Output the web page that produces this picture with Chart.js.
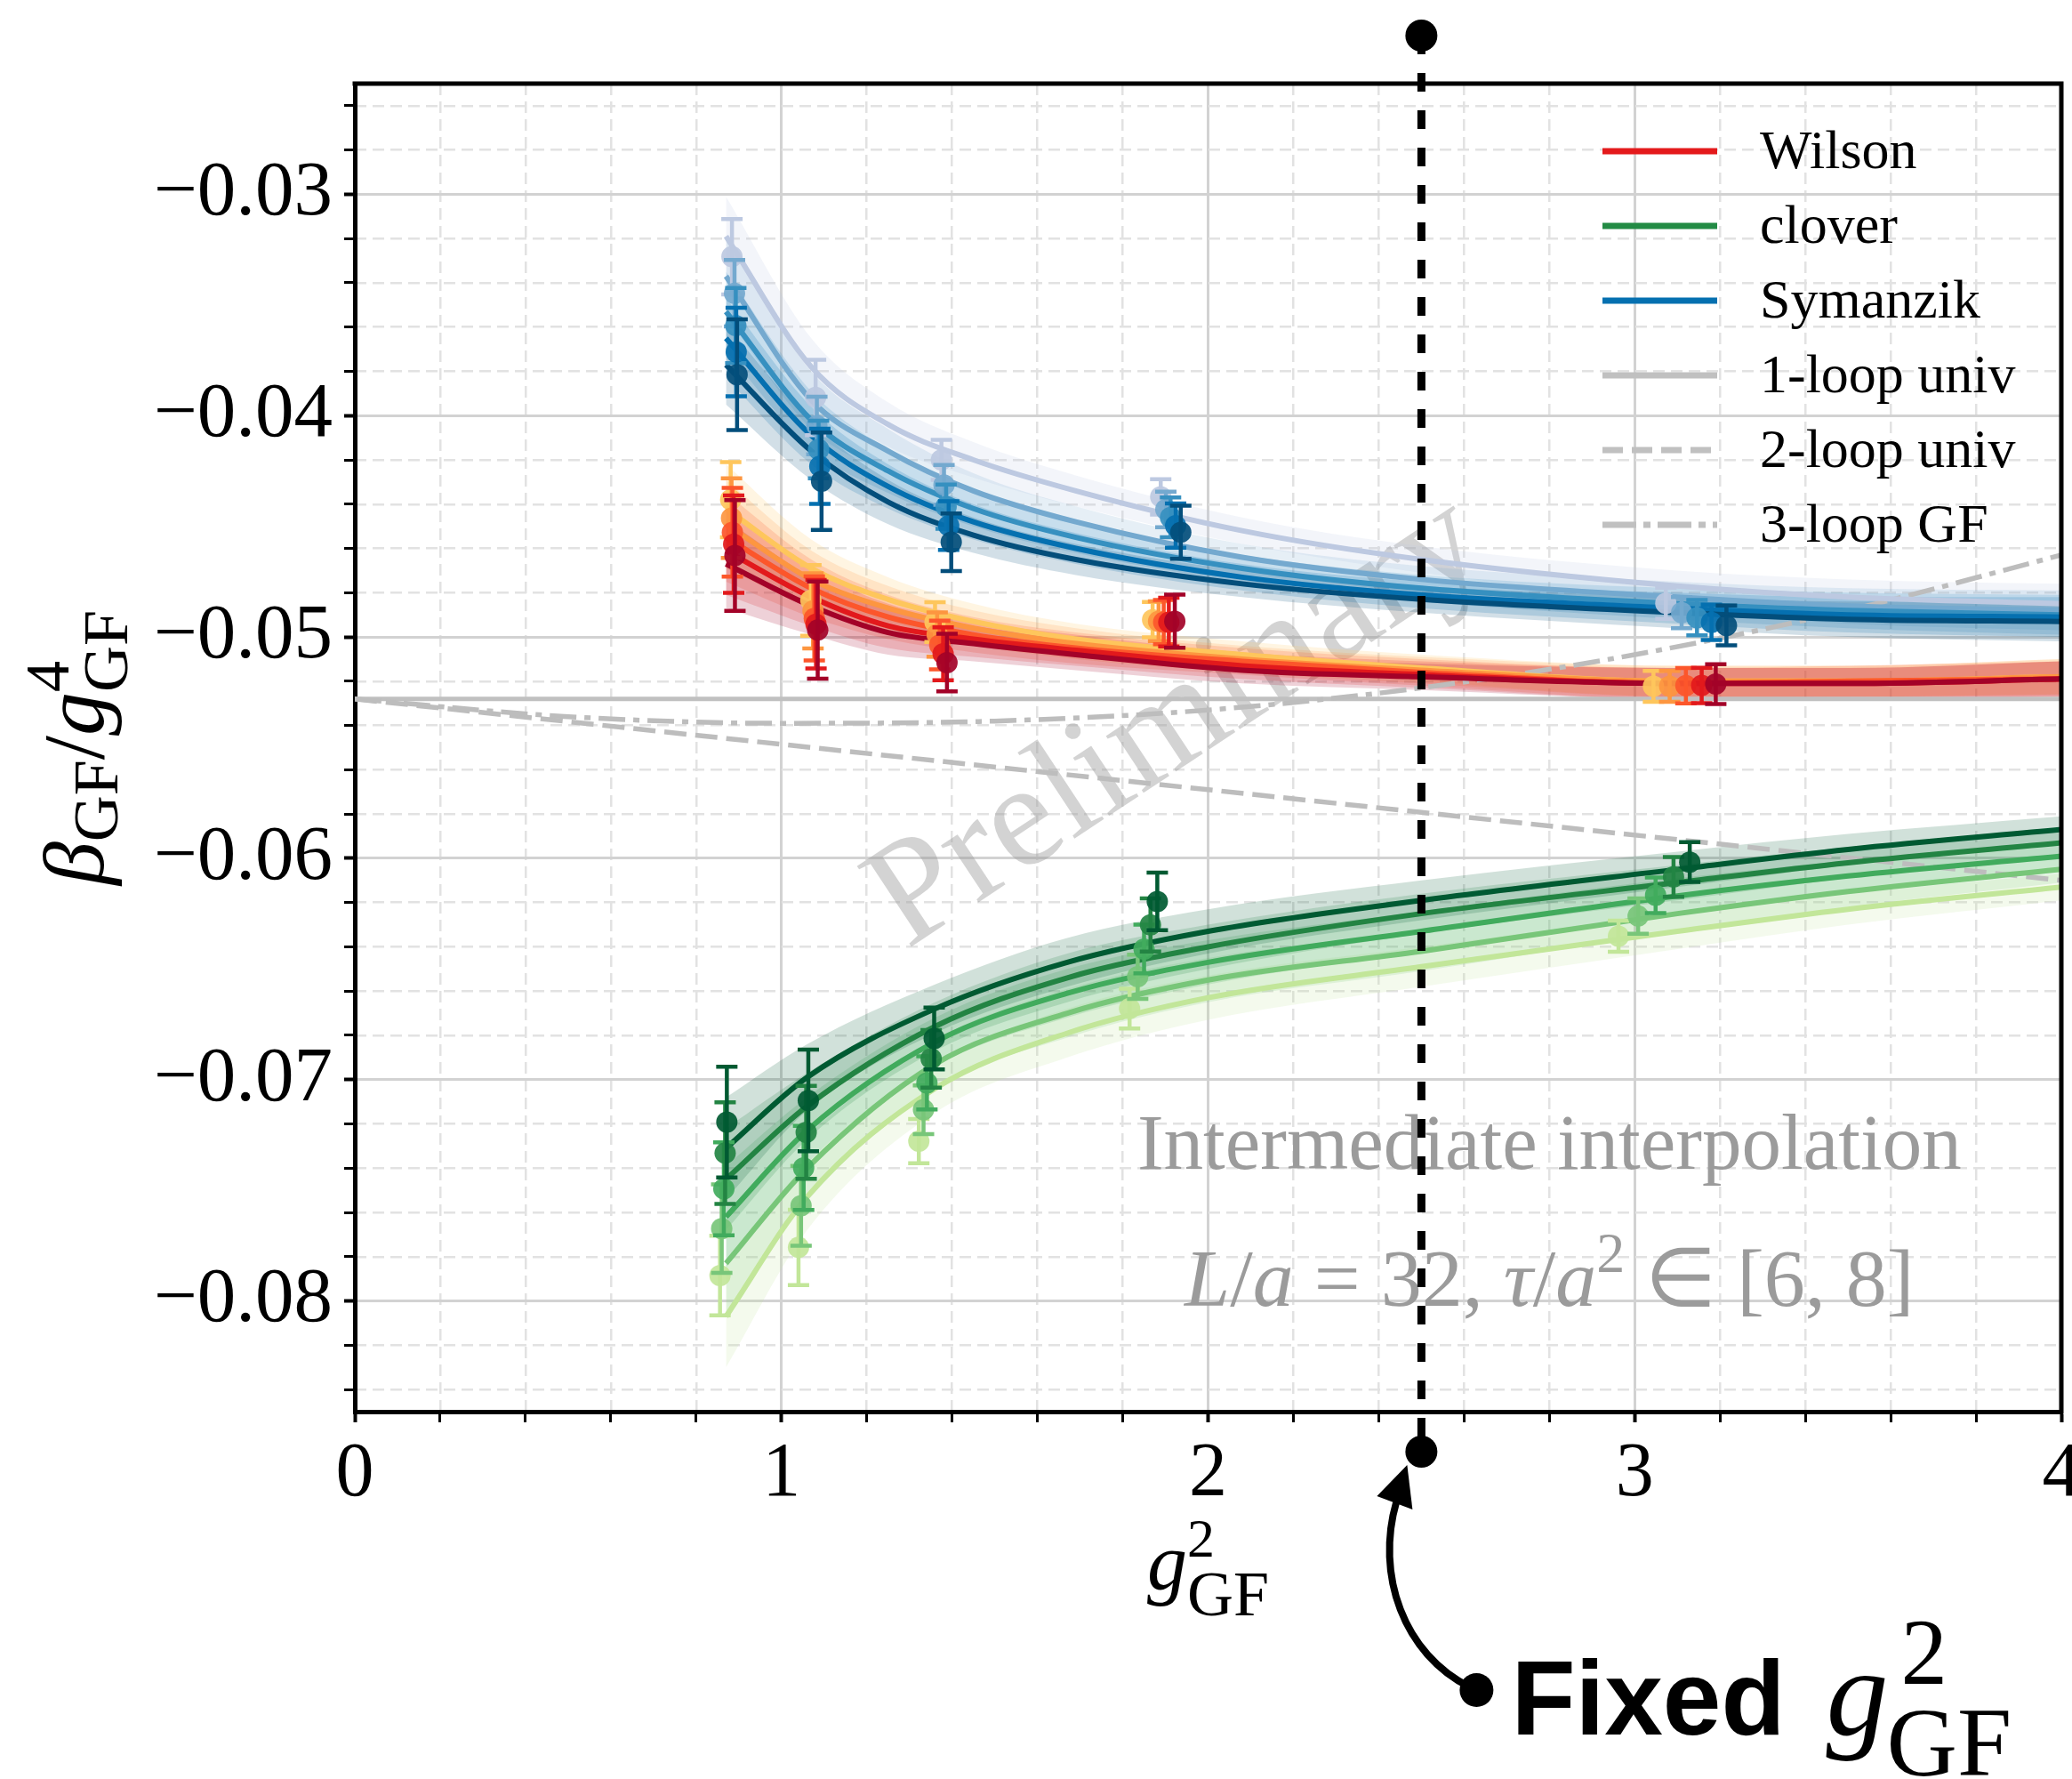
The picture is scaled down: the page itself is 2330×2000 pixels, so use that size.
<!DOCTYPE html>
<html>
<head>
<meta charset="utf-8">
<title>beta function, intermediate interpolation</title>
<script src="https://cdn.jsdelivr.net/npm/chart.js@4.4.1/dist/chart.umd.min.js"></script>
<style>
  html, body { margin: 0; padding: 0; background: #ffffff; }
  canvas { display: block; }
</style>
</head>
<body>
<canvas id="chart" width="2330" height="2000" style="width:2330px;height:2000px"></canvas>
<script>
var serif = "'Liberation Serif', 'Times New Roman', serif";
var sans = "'Liberation Sans', Arial, sans-serif";

// shades run light -> dark (one row per shade)
var wilsonColors = ['#fec65c', '#fd9640', '#fc562b', '#e2191c', '#a30228'];
var cloverColors = ['#c2e699', '#78c679', '#41ab5d', '#238443', '#005a32'];
var symanzikColors = ['#bdc9e1', '#74a9cf', '#3690c0', '#0570b0', '#034e7b'];

// measured points
var wilsonX = [
  [0.881, 1.069, 1.360, 1.870, 3.044],
  [0.883, 1.074, 1.365, 1.884, 3.082],
  [0.885, 1.077, 1.371, 1.896, 3.120],
  [0.888, 1.081, 1.379, 1.908, 3.157],
  [0.891, 1.085, 1.388, 1.922, 3.190]
];
var wilsonY = [
  [-0.0438, -0.04835, -0.04933, -0.04922, -0.05223],
  [-0.04463, -0.04882, -0.04989, -0.04929, -0.05223],
  [-0.04527, -0.04916, -0.05036, -0.04933, -0.0522],
  [-0.04581, -0.04942, -0.05076, -0.04933, -0.05219],
  [-0.04632, -0.04969, -0.05116, -0.04929, -0.05213]
];
var wilsonErr = [
  [0.0017, 0.0016, 0.0009, 0.0008, 0.0007],
  [0.0018, 0.0017, 0.0010, 0.0009, 0.0007],
  [0.0020, 0.0019, 0.0011, 0.0010, 0.0008],
  [0.0022, 0.0020, 0.0012, 0.0011, 0.0008],
  [0.0025, 0.0022, 0.0013, 0.0012, 0.0009]
];

var cloverX = [
  [0.856, 1.040, 1.322, 1.816, 2.962],
  [0.860, 1.046, 1.333, 1.835, 3.008],
  [0.865, 1.052, 1.341, 1.850, 3.049],
  [0.868, 1.058, 1.351, 1.865, 3.091],
  [0.872, 1.063, 1.358, 1.881, 3.129]
];
var cloverY = [
  [-0.07885, -0.07758, -0.07278, -0.06679, -0.06352],
  [-0.07673, -0.0757, -0.07136, -0.06535, -0.06261],
  [-0.07493, -0.07399, -0.07015, -0.0641, -0.06167],
  [-0.07332, -0.07238, -0.06906, -0.06301, -0.06084],
  [-0.07192, -0.07094, -0.06814, -0.06195, -0.06017]
];
var cloverErr = [
  [0.0018, 0.0017, 0.0010, 0.0009, 0.0007],
  [0.0020, 0.0018, 0.0011, 0.0010, 0.0008],
  [0.0021, 0.0019, 0.0012, 0.0011, 0.0008],
  [0.0023, 0.0021, 0.0013, 0.0012, 0.0009],
  [0.0025, 0.0023, 0.0014, 0.0013, 0.0009]
];

var symanzikX = [
  [0.884, 1.080, 1.375, 1.889, 3.073],
  [0.890, 1.083, 1.381, 1.901, 3.110],
  [0.893, 1.087, 1.386, 1.912, 3.146],
  [0.894, 1.090, 1.392, 1.924, 3.180],
  [0.896, 1.094, 1.398, 1.936, 3.215]
];
var symanzikY = [
  [-0.03282, -0.03918, -0.0420, -0.04367, -0.04848],
  [-0.03447, -0.04045, -0.04313, -0.04424, -0.0489],
  [-0.03593, -0.04153, -0.04411, -0.0446, -0.04913],
  [-0.03713, -0.04229, -0.04497, -0.04497, -0.04934],
  [-0.03815, -0.04296, -0.04572, -0.04527, -0.04948]
];
var symanzikErr = [
  [0.0017, 0.0017, 0.0009, 0.0008, 0.0007],
  [0.0015, 0.0013, 0.0009, 0.0008, 0.0007],
  [0.0017, 0.0013, 0.0010, 0.0009, 0.0008],
  [0.0020, 0.0017, 0.0011, 0.0010, 0.0008],
  [0.0025, 0.0022, 0.0013, 0.0012, 0.0009]
];

// interpolating curves, with band half widths
var fitGrid = [0.87, 1.07, 1.25, 1.45, 1.69, 2.08, 2.5, 3.1, 3.5, 4.0];
var cloverGrid = [0.87, 1.06, 1.36, 1.67, 2.0, 2.5, 3.1, 3.5, 4.0];

var wilsonFit = [
  [-0.0442, -0.0469, -0.0483, -0.0493, -0.0501, -0.0508, -0.0514, -0.0520, -0.0520, -0.0518],
  [-0.0449, -0.0474, -0.0487, -0.0496, -0.0503, -0.0510, -0.0515, -0.0520, -0.0520, -0.0518],
  [-0.0455, -0.0478, -0.0491, -0.0499, -0.0505, -0.0511, -0.0516, -0.0521, -0.0520, -0.0519],
  [-0.0461, -0.0482, -0.0495, -0.0501, -0.0506, -0.0513, -0.0517, -0.0521, -0.0521, -0.0519],
  [-0.0467, -0.0486, -0.0498, -0.0503, -0.0508, -0.0515, -0.0518, -0.0521, -0.0521, -0.0519]
];
var symanzikFit = [
  [-0.0319, -0.0378, -0.0404, -0.0420, -0.0434, -0.0452, -0.0465, -0.0477, -0.0482, -0.0485],
  [-0.0337, -0.0393, -0.0416, -0.0434, -0.0448, -0.0464, -0.0474, -0.0482, -0.0486, -0.0488],
  [-0.0353, -0.0402, -0.0425, -0.0442, -0.0455, -0.0469, -0.0478, -0.0485, -0.0488, -0.0490],
  [-0.0365, -0.0409, -0.0432, -0.0448, -0.0460, -0.0473, -0.0481, -0.0487, -0.0490, -0.0491],
  [-0.0377, -0.0416, -0.0439, -0.0454, -0.0465, -0.0476, -0.0483, -0.0489, -0.0492, -0.0493]
];
var cloverFit = [
  [-0.0807, -0.0753, -0.0704, -0.0679, -0.0663, -0.0649, -0.0633, -0.0623, -0.0613],
  [-0.0783, -0.0740, -0.0693, -0.0670, -0.0655, -0.0642, -0.0625, -0.0615, -0.0605],
  [-0.0762, -0.0723, -0.0683, -0.0661, -0.0647, -0.0633, -0.0617, -0.0608, -0.0599],
  [-0.0745, -0.0712, -0.0676, -0.0654, -0.0640, -0.0625, -0.0611, -0.0602, -0.0593],
  [-0.0731, -0.0699, -0.0668, -0.0647, -0.0633, -0.0619, -0.0605, -0.0596, -0.0587]
];
var wilsonBand = [0.0020, 0.0013, 0.0010, 0.0008, 0.0007, 0.0006, 0.0006, 0.0007, 0.0007, 0.0008];
var symanzikBand = [0.0018, 0.0013, 0.0010, 0.0008, 0.0007, 0.0006, 0.0006, 0.0007, 0.0008, 0.0009];
var cloverBand = [0.0023, 0.0015, 0.0011, 0.0011, 0.0010, 0.0009, 0.0008, 0.0007, 0.0006];

// perturbative curves
var oneLoopX = [0, 4];
var oneLoopY = [-0.0528, -0.0528];
var twoLoopX = [0, 4];
var twoLoopY = [-0.0528, -0.0610];
var threeLoopX = [0, 0.5, 1, 1.5, 2, 2.5, 3, 3.5, 4];
var threeLoopY = [-0.0528, -0.0536, -0.0539, -0.0538, -0.0533, -0.0523, -0.0508, -0.0488, -0.0463];

var legendLabels = ['Wilson', 'clover', 'Symanzik', '1-loop univ', '2-loop univ', '3-loop GF'];
var legendColors = ['#e41a1c', '#238b45', '#0570b0', '#c0c0c0', '#c0c0c0', '#c0c0c0'];
var legendDash = [[], [], [], [], [23, 10], [38, 8, 8, 8]];

var fixedG2 = 2.5;

function rgba(hex, a) {
  var n = parseInt(hex.slice(1), 16);
  return 'rgba(' + (n >> 16) + ',' + ((n >> 8) & 255) + ',' + (n & 255) + ',' + a + ')';
}
function pts(xs, ys) {
  return xs.map(function (x, i) { return { x: x, y: ys[i] }; });
}
function isWhole(v) { return Math.abs(v - Math.round(v)) < 1e-6; }
function milli(v) { return Math.round(v * 1000); }

var groups = [
  { colors: wilsonColors, xs: wilsonX, ys: wilsonY, errs: wilsonErr, grid: fitGrid, fit: wilsonFit, band: wilsonBand },
  { colors: cloverColors, xs: cloverX, ys: cloverY, errs: cloverErr, grid: cloverGrid, fit: cloverFit, band: cloverBand },
  { colors: symanzikColors, xs: symanzikX, ys: symanzikY, errs: symanzikErr, grid: fitGrid, fit: symanzikFit, band: symanzikBand }
];

var datasets = [];

// bands
groups.forEach(function (g) {
  g.fit.forEach(function (row, s) {
    datasets.push({
      data: pts(g.grid, row.map(function (v, i) { return v + g.band[i]; })),
      borderColor: 'rgba(0,0,0,0)', borderWidth: 1, pointRadius: 0,
      cubicInterpolationMode: 'monotone', fill: false
    });
    datasets.push({
      data: pts(g.grid, row.map(function (v, i) { return v - g.band[i]; })),
      borderColor: 'rgba(0,0,0,0)', borderWidth: 1, pointRadius: 0,
      cubicInterpolationMode: 'monotone', fill: '-1', backgroundColor: rgba(g.colors[s], 0.18)
    });
  });
});

// perturbation theory
datasets.push({ data: pts(oneLoopX, oneLoopY), borderColor: '#c0c0c0', borderWidth: 5, pointRadius: 0, fill: false });
datasets.push({ data: pts(twoLoopX, twoLoopY), borderColor: '#bdbdbd', borderWidth: 5.5, borderDash: [25, 10], pointRadius: 0, fill: false });
datasets.push({ data: pts(threeLoopX, threeLoopY), borderColor: '#bdbdbd', borderWidth: 5.5, borderDash: [30, 9, 7, 9],
  pointRadius: 0, cubicInterpolationMode: 'monotone', fill: false });

// fit curves
groups.forEach(function (g) {
  g.fit.forEach(function (row, s) {
    datasets.push({ data: pts(g.grid, row), borderColor: g.colors[s], borderWidth: 6, pointRadius: 0,
      cubicInterpolationMode: 'monotone', fill: false });
  });
});

// data points
groups.forEach(function (g) {
  g.ys.forEach(function (row, s) {
    datasets.push({
      data: pts(g.xs[s], row), errors: g.errs[s], barColor: g.colors[s],
      showLine: false, fill: false, pointRadius: 12, pointBorderWidth: 0,
      pointBackgroundColor: rgba(g.colors[s], 0.92), pointBorderColor: 'rgba(0,0,0,0)'
    });
  });
});

datasets.forEach(function (d, i) { d.order = -i; });

var errorBars = {
  id: 'errorBars',
  beforeDatasetDraw: function (chart, args) {
    var ds = chart.data.datasets[args.index];
    if (!ds.errors) return;
    var xs = chart.scales.x, ys = chart.scales.y, ctx = chart.ctx;
    ctx.save();
    ctx.strokeStyle = ds.barColor;
    ctx.lineWidth = 4.5;
    ds.data.forEach(function (p, i) {
      var px = xs.getPixelForValue(p.x);
      var top = ys.getPixelForValue(p.y + ds.errors[i]);
      var bot = ys.getPixelForValue(p.y - ds.errors[i]);
      ctx.beginPath();
      ctx.moveTo(px, top); ctx.lineTo(px, bot);
      ctx.moveTo(px - 12, top); ctx.lineTo(px + 12, top);
      ctx.moveTo(px - 12, bot); ctx.lineTo(px + 12, bot);
      ctx.stroke();
    });
    ctx.restore();
  }
};

function layoutRuns(ctx, parts) {
  var cx = 0, lastStart = 0, items = [];
  parts.forEach(function (p) {
    ctx.font = p.font;
    var w = ctx.measureText(p.text).width;
    var start = p.stack ? lastStart : cx;
    items.push({ p: p, x: start });
    lastStart = start;
    cx = Math.max(cx, start + w);
  });
  return { items: items, width: cx };
}
function drawRuns(ctx, parts, x, y) {
  var lay = layoutRuns(ctx, parts);
  lay.items.forEach(function (it) {
    ctx.font = it.p.font;
    ctx.fillText(it.p.text, x + it.x, y + (it.p.dy || 0));
  });
  return lay.width;
}

var watermark = {
  id: 'watermark',
  beforeDatasetsDraw: function (chart) {
    var a = chart.chartArea, ctx = chart.ctx;
    ctx.save();
    ctx.translate(a.left + 0.3236 * (a.right - a.left), a.top + 0.652 * (a.bottom - a.top));
    ctx.rotate(-33.5 * Math.PI / 180);
    ctx.font = '167px ' + serif;
    ctx.fillStyle = 'rgba(150,150,150,0.42)';
    ctx.textBaseline = 'alphabetic';
    ctx.fillText('Preliminary', 0, 0);
    ctx.restore();
  }
};

var decorations = {
  id: 'decorations',
  afterDraw: function (chart) {
    var a = chart.chartArea, ctx = chart.ctx;
    var w = a.right - a.left, h = a.bottom - a.top;
    ctx.save();

    // top and right frame
    ctx.strokeStyle = '#000';
    ctx.lineWidth = 5;
    ctx.beginPath();
    ctx.moveTo(a.left - 2.5, a.top); ctx.lineTo(a.right, a.top); ctx.lineTo(a.right, a.bottom + 2.5);
    ctx.stroke();

    // legend
    ctx.textBaseline = 'middle';
    ctx.textAlign = 'left';
    legendLabels.forEach(function (lab, i) {
      var yy = a.top + 76 + 84 * i;
      ctx.beginPath();
      ctx.setLineDash(legendDash[i]);
      ctx.strokeStyle = legendColors[i];
      ctx.lineWidth = 7;
      ctx.moveTo(a.right - 516, yy); ctx.lineTo(a.right - 387, yy);
      ctx.stroke();
      ctx.setLineDash([]);
      ctx.fillStyle = '#000';
      ctx.font = '62px ' + serif;
      ctx.fillText(lab, a.right - 339, yy + 3);
    });

    // in-plot notes
    ctx.textBaseline = 'alphabetic';
    ctx.fillStyle = '#9b9b9b';
    ctx.textAlign = 'center';
    ctx.font = '89px ' + serif;
    ctx.fillText('Intermediate interpolation', a.left + 0.7 * w, a.top + 0.817 * h);
    ctx.textAlign = 'left';
    var it = 'italic 92px ' + serif, rm = '92px ' + serif;
    var note = [
      { text: 'L', font: it }, { text: '/', font: rm }, { text: 'a', font: it },
      { text: ' = 32, ', font: rm }, { text: '\u03c4', font: it }, { text: '/', font: rm },
      { text: 'a', font: it }, { text: '2', font: '64px ' + serif, dy: -38 },
      { text: ' \u2208 [6, 8]', font: rm }
    ];
    var nw = layoutRuns(ctx, note).width;
    drawRuns(ctx, note, a.left + 0.7 * w - nw / 2, a.top + 0.92 * h);

    // axis titles
    ctx.fillStyle = '#000';
    var xt = [
      { text: 'g', font: 'italic 90px ' + serif },
      { text: '2', font: '62px ' + serif, dy: -37 },
      { text: 'GF', font: '72px ' + serif, dy: 29, stack: true }
    ];
    var xw = layoutRuns(ctx, xt).width;
    drawRuns(ctx, xt, (a.left + a.right) / 2 - xw / 2, 1787);

    ctx.save();
    ctx.translate(116, (a.top + a.bottom) / 2);
    ctx.rotate(-Math.PI / 2);
    var yt = [
      { text: '\u03b2', font: 'italic 98px ' + serif },
      { text: 'GF', font: '72px ' + serif, dy: 16 },
      { text: '/', font: '98px ' + serif },
      { text: 'g', font: 'italic 98px ' + serif },
      { text: '4', font: '70px ' + serif, dy: -39 },
      { text: 'GF', font: '72px ' + serif, dy: 27, stack: true }
    ];
    var yw = layoutRuns(ctx, yt).width;
    drawRuns(ctx, yt, -yw / 2, 0);
    ctx.restore();

    // fixed coupling marker
    var px = chart.scales.x.getPixelForValue(fixedG2);
    var yTop = a.top - 54, yBot = a.bottom + 45;
    ctx.strokeStyle = '#000';
    ctx.fillStyle = '#000';
    ctx.lineWidth = 9;
    ctx.setLineDash([21, 21]);
    ctx.beginPath();
    ctx.moveTo(px, yTop); ctx.lineTo(px, yBot);
    ctx.stroke();
    ctx.setLineDash([]);
    ctx.beginPath(); ctx.arc(px, yTop, 18, 0, Math.PI * 2); ctx.fill();
    ctx.beginPath(); ctx.arc(px, yBot, 18, 0, Math.PI * 2); ctx.fill();

    // arrow from label to marker
    ctx.lineWidth = 8;
    ctx.lineCap = 'round';
    ctx.beginPath();
    ctx.moveTo(px + 55, 1897);
    ctx.bezierCurveTo(px - 20, 1860, px - 52, 1770, px - 28, 1688);
    ctx.stroke();
    ctx.beginPath();
    ctx.moveTo(px - 16, 1647); ctx.lineTo(px - 50, 1682); ctx.lineTo(px - 10, 1697); ctx.closePath();
    ctx.fill();
    ctx.beginPath(); ctx.arc(px + 62, 1900, 19, 0, Math.PI * 2); ctx.fill();

    ctx.font = 'bold 118px ' + sans;
    ctx.fillText('Fixed', px + 101, 1950);
    var fw = ctx.measureText('Fixed').width;
    var gx = px + 101 + fw + 46;
    ctx.font = 'italic 140px ' + serif;
    ctx.fillText('g', gx, 1950);
    var gw = ctx.measureText('g').width;
    ctx.font = '105px ' + serif;
    ctx.fillText('2', gx + gw + 14, 1893);
    ctx.font = '110px ' + serif;
    ctx.fillText('GF', gx + gw - 2, 1996);

    ctx.restore();
  }
};

new Chart(document.getElementById('chart').getContext('2d'), {
  type: 'line',
  data: { datasets: datasets },
  options: {
    responsive: false,
    animation: false,
    devicePixelRatio: 1,
    events: [],
    layout: { padding: { top: 94, right: 12, bottom: 283, left: 0 } },
    plugins: { legend: { display: false }, tooltip: { enabled: false } },
    scales: {
      x: {
        type: 'linear', position: 'bottom', min: 0, max: 4,
        ticks: {
          stepSize: 0.2, maxTicksLimit: 100, autoSkip: false, maxRotation: 0, minRotation: 0,
          padding: 8, color: '#000', font: { family: serif, size: 86 },
          callback: function (v) { return isWhole(v) ? String(Math.round(v)) : ''; }
        },
        grid: {
          color: function (c) { return c.tick && isWhole(c.tick.value) ? '#d2d2d2' : 'rgba(0,0,0,0)'; },
          lineWidth: 3, tickColor: '#000', tickLength: 12,
          tickWidth: function (c) { return c.tick && isWhole(c.tick.value) ? 4 : 3; }
        },
        border: { color: '#000', width: 5 },
        afterFit: function (s) { s.height = 130; s.paddingLeft = 0; s.paddingRight = 0; }
      },
      x2: {
        type: 'linear', position: 'top', min: 0, max: 4,
        ticks: { display: false, stepSize: 0.2, maxTicksLimit: 100 },
        grid: {
          drawTicks: false, lineWidth: 2.5,
          color: function (c) { return c.tick && !isWhole(c.tick.value) ? '#e2e2e2' : 'rgba(0,0,0,0)'; }
        },
        border: { display: false, dash: [13, 7] },
        afterFit: function (s) { s.height = 0; s.paddingLeft = 0; s.paddingRight = 0; }
      },
      y: {
        type: 'linear', position: 'left', min: -0.085, max: -0.025,
        ticks: {
          stepSize: 0.001, maxTicksLimit: 100, autoSkip: false, padding: 13,
          color: '#000', font: { family: serif, size: 87 },
          callback: function (v) { return milli(v) % 10 === 0 ? '\u2212' + Math.abs(v).toFixed(2) : ''; }
        },
        grid: {
          color: function (c) { return c.tick && milli(c.tick.value) % 10 === 0 ? '#d2d2d2' : 'rgba(0,0,0,0)'; },
          lineWidth: 3, tickLength: 12,
          tickColor: function (c) { return c.tick && milli(c.tick.value) % 2 === 0 ? '#000' : 'rgba(0,0,0,0)'; },
          tickWidth: function (c) { return c.tick && milli(c.tick.value) % 10 === 0 ? 4 : 3; }
        },
        border: { color: '#000', width: 5 },
        afterFit: function (s) { s.width = 399; s.paddingTop = 0; s.paddingBottom = 0; }
      },
      y2: {
        type: 'linear', position: 'right', min: -0.085, max: -0.025,
        ticks: { display: false, stepSize: 0.001, maxTicksLimit: 100 },
        grid: {
          drawTicks: false, lineWidth: 2.5,
          color: function (c) {
            if (!c.tick) return 'rgba(0,0,0,0)';
            var m = milli(c.tick.value);
            return (m % 2 === 0 && m % 10 !== 0) ? '#e2e2e2' : 'rgba(0,0,0,0)';
          }
        },
        border: { display: false, dash: [13, 7] },
        afterFit: function (s) { s.width = 0; s.paddingTop = 0; s.paddingBottom = 0; }
      }
    }
  },
  plugins: [watermark, errorBars, decorations]
});
</script>
</body>
</html>
